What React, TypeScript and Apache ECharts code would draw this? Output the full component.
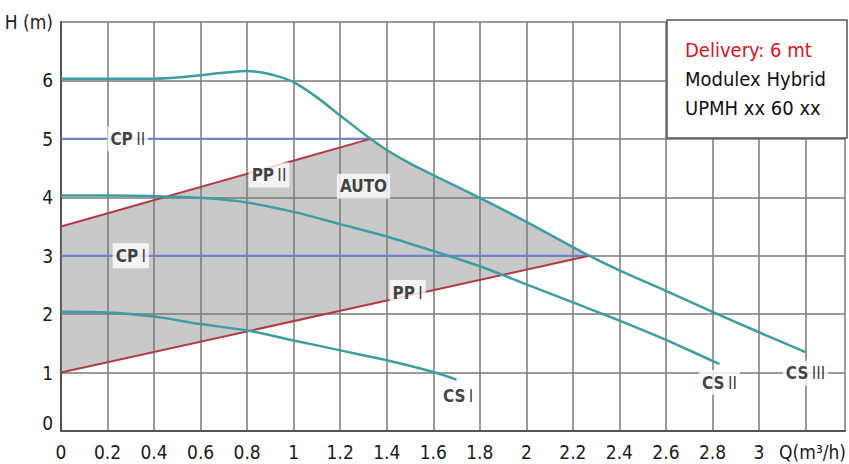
import React, { useEffect, useRef } from "react";
import * as echarts from "echarts";

// ---- data ----
const curveCS3: number[][] = [
  [0, 6.03], [0.2, 6.03], [0.4, 6.03], [0.5, 6.05], [0.6, 6.09], [0.7, 6.13],
  [0.8, 6.16], [0.87, 6.13], [0.94, 6.06], [1.0, 5.97], [1.1, 5.71], [1.2, 5.4],
  [1.33, 5.0], [1.4, 4.81], [1.5, 4.58], [1.6, 4.38], [1.8, 3.99], [2.0, 3.58],
  [2.27, 3.0], [2.4, 2.75], [2.6, 2.4], [2.8, 2.04], [3.0, 1.69], [3.2, 1.35],
];
const curveCS2: number[][] = [
  [0, 4.03], [0.2, 4.03], [0.4, 4.02], [0.6, 3.99], [0.8, 3.91], [1.0, 3.75],
  [1.2, 3.54], [1.4, 3.33], [1.6, 3.08], [1.8, 2.82], [2.0, 2.51], [2.2, 2.2],
  [2.4, 1.89], [2.6, 1.56], [2.8, 1.2], [2.83, 1.15],
];
const curveCS1: number[][] = [
  [0, 2.04], [0.2, 2.03], [0.4, 1.96], [0.6, 1.83], [0.8, 1.72], [1.0, 1.55],
  [1.2, 1.38], [1.4, 1.21], [1.6, 1.01], [1.7, 0.88],
];
const linePP2: number[][] = [[0, 3.5], [1.33, 5.0]];
const linePP1: number[][] = [[0, 1.0], [2.27, 3.0]];
const lineCP2: number[][] = [[0, 5.0], [1.33, 5.0]];
const lineCP1: number[][] = [[0, 3.0], [2.27, 3.0]];

const labelNames = ["CP II", "PP II", "AUTO", "CP I", "PP I", "CS I", "CS II", "CS III"];
const labelAnchors: number[][] = [
  [0.287, 5.0], [0.894, 4.38], [1.3, 4.19], [0.3, 3.0],
  [1.49, 2.37], [1.707, 0.6], [2.83, 0.83], [3.2, 0.99],
];

const legendLines = ["Delivery: 6 mt", "Modulex Hybrid", "UPMH xx 60 xx"];
const xMax = 3.37;
const yMax = 7;
const xAxisTitle = "Q(m³/h)";
const yAxisTitle = "H (m)";

const FONT = "'DejaVu Sans Condensed', 'DejaVu Sans', sans-serif";
const TEAL = "#3e9ca4";
const RED = "#b23a44";
const BLUE = "#6d80d6";

// area polygon: along PP I, then back along the top boundary (top curve, then PP II)
const areaTopSeg = curveCS3.filter((p) => p[0] > linePP2[1][0] && p[0] < linePP1[1][0]);
const areaPolygon: number[][] = [
  linePP1[0],
  linePP1[1],
  ...areaTopSeg.slice().reverse(),
  linePP2[1],
  linePP2[0],
];

function richLabel(name: string): string {
  const parts = name.split(" ");
  if (parts.length === 1) return `{b|${parts[0]}}`;
  return `{b|${parts[0]}} {r|${parts.slice(1).join(" ")}}`;
}

export default function App() {
  const ref = useRef<HTMLDivElement>(null);
  useEffect(() => {
    if (!ref.current) return;
    const chart = echarts.init(ref.current, undefined, { renderer: "svg" });
    const lineSeries = (data: number[][], color: string, width: number, smooth: boolean | number) => ({
      type: "line",
      data,
      smooth,
      symbol: "none",
      lineStyle: { color, width },
      z: 3,
    });
    chart.setOption({
      animation: false,
      backgroundColor: "#ffffff",
      grid: { left: 61, top: 22, width: 788, height: 409 },
      xAxis: {
        type: "value",
        min: 0,
        max: xMax,
        interval: 0.2,
        axisLine: { show: true, lineStyle: { color: "#555", width: 2 } },
        axisTick: { show: false },
        splitLine: { show: true, lineStyle: { color: "#7a7a7a", width: 1.5 } },
        axisLabel: {
          margin: 11,
          fontFamily: FONT,
          fontSize: 19,
          color: "#1a1a1a",
          showMaxLabel: true,
          formatter: (v: number) => {
            const r = Math.round(v * 10) / 10;
            if (Math.abs(r - 3.2) < 1e-6) return `{q|${xAxisTitle}}`;
            if (Math.abs(v - r) > 1e-6 || r > 3.0001) return "";
            return String(r);
          },
          rich: {
            q: { fontFamily: FONT, fontSize: 19, color: "#1a1a1a", padding: [0, 0, 0, 14] },
          },
        },
      },
      yAxis: {
        type: "value",
        min: 0,
        max: yMax,
        interval: 1,
        axisLine: { show: true, lineStyle: { color: "#555", width: 2 } },
        axisTick: { show: false },
        splitLine: { show: true, lineStyle: { color: "#7a7a7a", width: 1.5 } },
        axisLabel: {
          margin: 8,
          fontFamily: FONT,
          fontSize: 19,
          color: "#1a1a1a",
          formatter: (v: number) => {
            if (v === yMax) return yAxisTitle;
            if (v === 0) return "{z|0}";
            return String(v);
          },
          rich: {
            z: { fontFamily: FONT, fontSize: 19, color: "#1a1a1a", padding: [0, 0, 17, 0] },
          },
        },
      },
      series: [
        {
          type: "custom",
          data: [[0, 0]],
          z: 1,
          silent: true,
          renderItem: (_params: any, api: any) => ({
            type: "polygon",
            shape: { points: areaPolygon.map((p) => api.coord(p)) },
            style: { fill: "rgba(120,120,120,0.4)" },
          }),
        },
        lineSeries(lineCP2, BLUE, 2, false),
        lineSeries(lineCP1, BLUE, 2, false),
        lineSeries(linePP2, RED, 2, false),
        lineSeries(linePP1, RED, 2, false),
        lineSeries(curveCS3, TEAL, 2.5, 0.3),
        lineSeries(curveCS2, TEAL, 2.5, 0.3),
        lineSeries(curveCS1, TEAL, 2.5, 0.3),
        {
          type: "scatter",
          symbolSize: 0,
          z: 10,
          silent: true,
          data: labelAnchors.map((p, i) => ({ value: p, name: labelNames[i] })),
          label: {
            show: true,
            position: "inside",
            formatter: (p: any) => richLabel(p.name),
            backgroundColor: "#ffffff",
            padding: [4, 3],
            rich: {
              b: { fontFamily: FONT, fontSize: 17, fontWeight: "bold", color: "#111" },
              r: { fontFamily: FONT, fontSize: 17, fontWeight: "normal", color: "#111" },
            },
          },
        },
      ],
      graphic: [
        {
          type: "rect",
          shape: { x: 667, y: 20, width: 180, height: 118 },
          style: { fill: "#ffffff", stroke: "#555", lineWidth: 1.5 },
          z: 20,
        },
        ...legendLines.map((t, i) => ({
          type: "text",
          x: 685,
          y: 50 + i * 29,
          z: 21,
          style: {
            text: t,
            fontFamily: FONT,
            fontSize: 20,
            fill: i === 0 ? "#e0121c" : "#111111",
            verticalAlign: "middle",
            align: "left",
          },
        })),
      ],
    });
    return () => chart.dispose();
  }, []);
  return (
    <div
      ref={ref}
      style={{ position: "fixed", left: 0, top: 0, width: 849, height: 464, background: "#fff" }}
    />
  );
}
